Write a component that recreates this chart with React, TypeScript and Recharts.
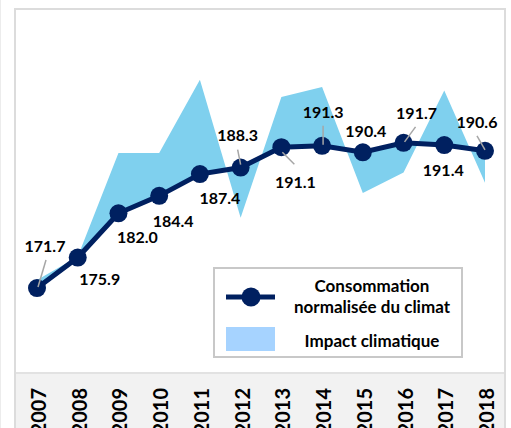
import React from 'react';
import { ComposedChart, Line, Area, XAxis, YAxis, Legend, LabelList } from 'recharts';

const years = ['2007', '2008', '2009', '2010', '2011', '2012', '2013', '2014', '2015', '2016', '2017', '2018'];
const normalized = [171.7, 175.9, 182.0, 184.4, 187.4, 188.3, 191.1, 191.3, 190.4, 191.7, 191.4, 190.6];
const actual = [172.8, 176.0, 190.3, 190.3, 200.4, 181.4, 198.0, 199.4, 184.8, 187.6, 198.9, 186.2];

const data = years.map((year, i) => ({
  year,
  norm: normalized[i],
  range: [normalized[i], actual[i]],
}));

// label placement relative to each point (style config, not data)
const labelPlacement: { dx: number; dy: number; leader?: [number, number, number, number] }[] = [
  { dx: 8, dy: -42, leader: [1, -1, 9, -28] },
  { dx: 22, dy: 22 },
  { dx: 19, dy: 24 },
  { dx: 14, dy: 25 },
  { dx: 20, dy: 24 },
  { dx: -3, dy: -32, leader: [0, -3, -3, -18] },
  { dx: 14, dy: 35, leader: [1, 5, 13, 17] },
  { dx: 1, dy: -34, leader: [1, -1, 1, -20] },
  { dx: 3, dy: -21 },
  { dx: 13, dy: -30, leader: [1, -1, 12, -16] },
  { dx: -1, dy: 25 },
  { dx: -8, dy: -29, leader: [0, -1, -8, -15] },
];

const NAVY = '#002060';
const AREA = '#7FD0EE';
const SWATCH = '#A6D3FF';
const FONT = 'Lato, "DejaVu Sans", sans-serif';

const renderLabel = (props: any) => {
  const { x, y, index, value } = props;
  const p = labelPlacement[index];
  if (!p) return null;
  const fs = 16;
  return (
    <g key={`lbl-${index}`}>
      {p.leader && (
        <line
          x1={x + p.leader[0]}
          y1={y + p.leader[1]}
          x2={x + p.leader[2]}
          y2={y + p.leader[3]}
          stroke="#a6a6a6"
          strokeWidth={1.5}
        />
      )}
      <text
        x={x + p.dx}
        y={y + p.dy + fs * 0.36}
        textAnchor="middle"
        fontFamily={FONT}
        fontWeight={700}
        fontSize={fs}
        fill="#000"
      >
        {Number(value).toFixed(1)}
      </text>
    </g>
  );
};

const YearTick = (props: any) => {
  const { x, y, payload } = props;
  return (
    <text
      transform={`translate(${x + 9},${y}) rotate(-90)`}
      textAnchor="end"
      fontFamily={FONT}
      fontWeight={700}
      fontSize={20}
      fill="#000"
    >
      {payload.value}
    </text>
  );
};

const LegendBox = () => (
  <div
    style={{
      position: 'relative',
      width: 250,
      height: 91,
      boxSizing: 'border-box',
      border: '2px solid #c8c8c8',
      background: '#fff',
      fontFamily: FONT,
      fontWeight: 700,
      fontSize: 17,
      color: '#000',
    }}
  >
    <svg width={60} height={91} style={{ position: 'absolute', left: 0, top: -2 }}>
      <line x1={11} y1={30} x2={60} y2={30} stroke={NAVY} strokeWidth={5} />
      <circle cx={36} cy={30} r={9.5} fill={NAVY} />
      <rect x={11} y={60} width={49} height={24} fill={SWATCH} />
    </svg>
    <div style={{ position: 'absolute', left: 64, width: 186, top: 6, textAlign: 'center', lineHeight: '21px' }}>
      Consommation
      <br />
      normalisée du climat
    </div>
    <div style={{ position: 'absolute', left: 64, width: 186, top: 61, textAlign: 'center', lineHeight: '21px' }}>
      Impact climatique
    </div>
  </div>
);

export default function App() {
  return (
    <div style={{ position: 'absolute', left: 0, top: 0, width: 511, height: 428, overflow: 'hidden', background: '#fff' }}>
      <div style={{ position: 'absolute', left: 0, top: 0, width: 1, height: 428, background: '#ececec' }} />
      <div style={{ position: 'absolute', left: 15, top: 373, width: 489, height: 60, background: '#f2f2f2' }} />
      <div
        style={{
          position: 'absolute',
          left: 14,
          top: 8,
          width: 492,
          height: 440,
          boxSizing: 'border-box',
          border: '2px solid #dcdcdc',
        }}
      />
      <div style={{ position: 'absolute', left: 16, top: 372, width: 488, height: 2, background: '#e2e2e2' }} />
      <div style={{ position: 'absolute', left: 0, top: 0 }}>
        <ComposedChart width={511} height={428} data={data} margin={{ top: 10, right: 6, bottom: 0, left: 17 }}>
          <XAxis
            dataKey="year"
            padding={{ left: 20, right: 20 }}
            axisLine={false}
            tickLine={false}
            tickSize={0}
            tickMargin={15}
            interval={0}
            height={55}
            tick={<YearTick />}
          />
          <YAxis hide width={0} domain={[160, 210]} />
          <Legend
            layout="horizontal"
            verticalAlign="middle"
            align="center"
            content={() => <LegendBox />}
            wrapperStyle={{ left: 213, top: 267, width: 250, height: 91 }}
          />
          <Area
            dataKey="range"
            name="Impact climatique"
            stroke="none"
            fill={AREA}
            fillOpacity={1}
            isAnimationActive={false}
          />
          <Line
            dataKey="norm"
            name="Consommation normalisée du climat"
            stroke={NAVY}
            strokeWidth={5}
            dot={{ r: 9, fill: NAVY, stroke: NAVY, strokeWidth: 0 }}
            activeDot={false}
            isAnimationActive={false}
          >
            <LabelList dataKey="norm" content={renderLabel} />
          </Line>
        </ComposedChart>
      </div>
    </div>
  );
}
